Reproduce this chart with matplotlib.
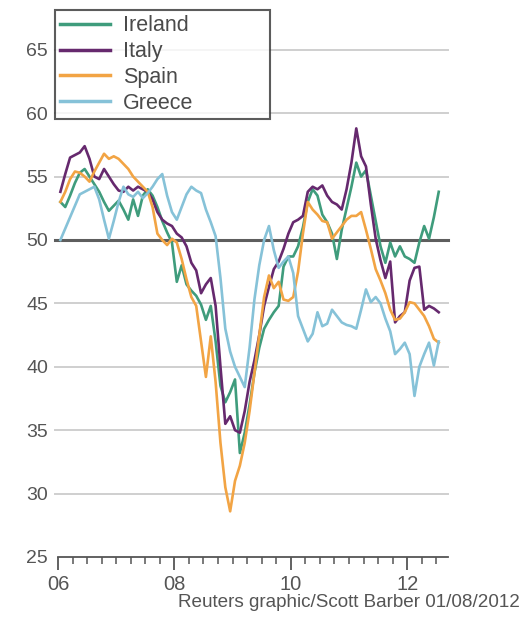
import numpy as np
import matplotlib
matplotlib.use("Agg")
import matplotlib.pyplot as plt

# Monthly manufacturing PMI, Jan 2006 - Jul 2012
ireland = [53.0, 52.6, 53.5, 54.5, 55.3, 55.6, 55.0, 54.4, 53.8, 53.0, 52.3, 52.7,
           53.1, 52.4, 51.6, 53.2, 51.9, 53.5, 54.0, 53.5, 52.6, 51.5, 50.6, 49.8,
           46.7, 48.0, 46.5, 46.0, 45.6, 44.9, 43.7, 44.8, 42.0, 38.5, 37.2, 38.0,
           39.0, 33.2, 34.8, 37.0, 39.5, 41.5, 43.0, 43.7, 44.3, 44.8, 47.9, 48.7,
           48.7, 49.5, 51.0, 53.0, 54.0, 53.5, 52.0, 51.4, 50.5, 48.5, 50.8, 52.5,
           54.2, 56.1, 55.0, 55.5, 53.5, 51.5, 49.5, 48.2, 49.8, 48.7, 49.5, 48.7,
           48.5, 48.2, 49.8, 51.1, 50.1, 51.8, 53.8]
italy = [53.8, 55.2, 56.5, 56.7, 56.9, 57.4, 56.4, 55.0, 54.8, 55.6, 55.0, 54.4,
         53.9, 53.8, 54.2, 53.9, 54.2, 54.0, 53.8, 53.2, 52.2, 51.6, 51.3, 51.1,
         50.5, 50.2, 49.5, 48.2, 47.6, 45.8, 46.5, 47.0, 44.8, 40.0, 35.5, 36.1,
         35.0, 34.8, 36.5, 38.8, 40.5, 42.5, 44.8, 46.3, 47.7, 48.3, 49.3, 50.5,
         51.4, 51.6, 51.9, 53.8, 54.2, 54.0, 54.3, 53.5, 53.0, 52.8, 52.4, 54.0,
         56.1, 58.8, 56.6, 55.8, 52.8, 50.1, 48.4, 47.0, 48.3, 43.5, 44.0, 44.3,
         46.8, 47.8, 47.9, 44.5, 44.8, 44.6, 44.3]
spain = [53.0, 53.8, 54.8, 55.4, 55.3, 55.0, 54.6, 55.4, 56.1, 56.8, 56.4, 56.6,
         56.4, 56.0, 55.6, 55.0, 54.6, 54.2, 53.8, 52.6, 50.5, 50.0, 49.6, 50.1,
         49.8, 48.5, 46.9, 45.5, 44.8, 42.0, 39.2, 42.4, 38.8, 34.0, 30.5, 28.6,
         31.0, 32.2, 34.0, 36.5, 39.5, 42.5, 45.5, 47.2, 46.2, 46.7, 45.3, 45.2,
         45.5, 47.5, 50.5, 53.0, 52.4, 52.0, 51.5, 51.4, 50.1, 50.6, 51.1, 51.6,
         51.9, 51.9, 52.2, 50.8, 49.3, 47.7, 46.8, 45.8, 44.5, 43.7, 43.8, 44.3,
         45.1, 45.0, 44.5, 44.0, 43.2, 42.2, 41.9]
greece = [50.0, 50.9, 51.8, 52.7, 53.6, 53.8, 54.0, 54.2, 53.2, 51.6, 50.1, 51.5,
          53.0, 54.2, 53.6, 53.4, 53.8, 53.3, 53.7, 54.2, 54.8, 55.2, 53.5, 52.2,
          51.6, 52.6, 53.6, 54.2, 53.9, 53.7, 52.4, 51.4, 50.3, 47.0, 43.0, 41.2,
          40.0, 39.2, 38.4, 41.5, 45.3, 48.0, 50.0, 51.1, 49.2, 47.8, 48.3, 48.7,
          47.4, 44.0, 43.0, 42.0, 42.6, 44.3, 43.2, 43.4, 44.5, 44.0, 43.5, 43.3,
          43.2, 43.0, 44.5, 46.1, 45.1, 45.5, 45.0, 43.8, 42.8, 41.0, 41.4, 41.9,
          41.0, 37.7, 40.0, 41.0, 41.9, 40.1, 42.0]

series = [("Ireland", ireland, "#3f9c7c"),
          ("Italy", italy, "#66296e"),
          ("Spain", spain, "#f2a444"),
          ("Greece", greece, "#86c2d8")]

y_ticks = [25, 30, 35, 40, 45, 50, 55, 60, 65]
x_major = [2006, 2008, 2010, 2012]
x_labels = ["06", "08", "10", "12"]

plt.rcParams['font.family'] = ['Liberation Sans', 'DejaVu Sans']

fig = plt.figure(figsize=(5.27, 6.28), dpi=100)
ax = fig.add_axes([0.110, 0.1131, 0.740, 0.848])

months = 2006 + (np.arange(len(ireland)) + 0.5) / 12.0

for yv in y_ticks[1:]:
    if yv == 50:
        continue
    ax.axhline(yv, xmin=-0.008, xmax=1.0, color="#cfcfcf", lw=1.4, zorder=1, clip_on=False)
ax.axhline(50, xmin=-0.008, xmax=1.0, color="#5e5e5e", lw=2.2, zorder=2, clip_on=False)

draw_order = [3, 0, 1, 2]
lines = {}
for i in draw_order:
    name, vals, col = series[i]
    ln, = ax.plot(months, vals, color=col, lw=1.9, label=name, zorder=3 + i)
    lines[name] = ln

ax.set_xlim(2006, 2012.70)
ax.set_ylim(25, 67)
ax.set_yticks(y_ticks)
ax.set_yticklabels([str(v) for v in y_ticks])
ax.set_xticks(x_major)
ax.set_xticklabels(x_labels)
ax.set_xticks(np.arange(2006, 2012.6, 0.25), minor=True)

for s in ["top", "right", "left"]:
    ax.spines[s].set_visible(False)
ax.spines["bottom"].set_color("#555555")
ax.spines["bottom"].set_linewidth(1.3)
ax.tick_params(axis="y", length=0, pad=7, labelsize=14, labelcolor="#555555")
ax.tick_params(axis="x", which="major", length=9, width=1.3, color="#555555",
               pad=4, labelsize=14.5, labelcolor="#555555")
ax.tick_params(axis="x", which="minor", length=5, width=1.1, color="#555555")

handles = [lines[n] for n, _, _ in series]
leg = fig.legend(handles, [n for n, _, _ in series],
                 loc="upper left", bbox_to_anchor=(0.104, 0.812, 0.408, 0.172),
                 mode="expand", borderaxespad=0, fontsize=15.5,
                 handlelength=2.3, handletextpad=0.6, labelspacing=0.22,
                 borderpad=0.25, frameon=True, fancybox=False)
leg.get_frame().set_edgecolor("#333333")
leg.get_frame().set_linewidth(1.5)
for t in leg.get_texts():
    t.set_color("#4a4a4a")
for h in leg.legend_handles:
    h.set_linewidth(2.5)

fig.text(0.987, 0.040, "Reuters graphic/Scott Barber 01/08/2012",
         ha="right", va="center", fontsize=13.6, color="#555555")

fig.savefig("out.png", dpi=100)
